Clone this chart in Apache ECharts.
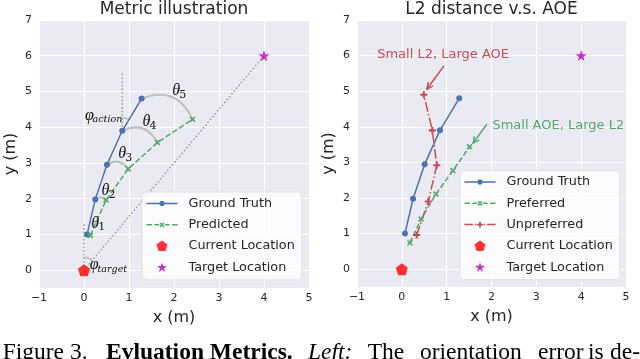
<!DOCTYPE html>
<html><head><meta charset="utf-8">
<script src="https://cdn.jsdelivr.net/npm/echarts@6/dist/echarts.min.js"></script>
<style>html,body{margin:0;padding:0;background:#fff}#c{width:640px;height:359px}</style>
</head><body><div id="c"></div>
<script>
// ---------- data ----------
const xRange = [-1, 5];
const yRange = [-0.5, 7];
const currentLocation = [0, 0];
const targetLocation = [4, 6];
const groundTruth = [[0.07, 1.0], [0.25, 1.98], [0.51, 2.95], [0.85, 3.9], [1.28, 4.8]];
const predicted = [[0.14, 0.97], [0.49, 1.96], [0.98, 2.83], [1.63, 3.57], [2.41, 4.22]];
const preferred = [[0.18, 0.74], [0.43, 1.41], [0.76, 2.11], [1.14, 2.77], [1.51, 3.44]];
const unpreferred = [[0.33, 0.96], [0.59, 1.9], [0.78, 2.92], [0.68, 3.9], [0.49, 4.9]];
// dotted vertical reference lines: [x, y, length]
const verticalRefs = [[0, 0, 1.35], [0.85, 3.9, 1.64]];
// angle annotations
const thetaSubs = ['1', '2', '3', '4', '5'];
const thetaLabelPos = [[0.16, 1.31], [0.39, 2.22], [0.76, 3.25], [1.30, 4.14], [1.96, 5.02]];
const phiSubs = ['action', 'target'];
const phiLabelPos = [[0.02, 4.32], [0.13, 0.14]];
// right-panel notes
const notes = ['Small L2, Large AOE', 'Small AOE, Large L2'];
const notePos = [[0.92, 6.02], [3.49, 4.04]];
const arrowFrom = [[0.94, 5.71], [1.90, 4.08]];
const arrowTo = [[0.56, 5.06], [1.59, 3.54]];

// ---------- styles ----------
const FONT = 'DejaVu Sans';
const TXT = '#262626';
const BLUE = '#4c72b0', GREEN = '#55a868', RED = '#c44e52';
function polyPts(pts, cx, cy, s) {
  return pts.map((p, k) => (k ? 'L' : 'M') + (cx + p[0] * s).toFixed(3) + ',' + (cy + p[1] * s).toFixed(3)).join(' ') + ' Z';
}
const pentPts = [0, 1, 2, 3, 4].map(k => [Math.cos(-Math.PI / 2 + k * 2 * Math.PI / 5), Math.sin(-Math.PI / 2 + k * 2 * Math.PI / 5)]);
const starPts = [0, 1, 2, 3, 4, 5, 6, 7, 8, 9].map(k => { const r = k % 2 ? 0.4 : 1, a = -Math.PI / 2 + k * Math.PI / 5; return [r * Math.cos(a), r * Math.sin(a)]; });
const xPts = [[-1, -0.6], [-0.6, -1], [0, -0.4], [0.6, -1], [1, -0.6], [0.4, 0], [1, 0.6], [0.6, 1], [0, 0.4], [-0.6, 1], [-1, 0.6], [-0.4, 0]];
const plusPts = [[-0.3, -1], [0.3, -1], [0.3, -0.3], [1, -0.3], [1, 0.3], [0.3, 0.3], [0.3, 1], [-0.3, 1], [-0.3, 0.3], [-1, 0.3], [-1, -0.3], [-0.3, -0.3]];
const circPts = Array.from({ length: 20 }, (_, k) => [Math.cos(k * Math.PI / 10), Math.sin(k * Math.PI / 10)]);
const PENT = 'path://' + polyPts(pentPts, 0, 0, 1);
const STAR = 'path://' + polyPts(starPts, 0, 0, 1);
const XMARK = 'path://' + polyPts(xPts, 0, 0, 1);
const PLUS = 'path://' + polyPts(plusPts, 0, 0, 1);

// legend icons drawn in a 31 x 14 box
const LW = 31, LH = 14;
const corners = 'M0,0 L0.01,0 L0,0.01 Z M31,14 L30.99,14 L31,13.99 Z ';
const seg = (a, b) => `M${a},6.25 L${b},6.25 L${b},7.75 L${a},7.75 Z `;
const ICON_GT = 'path://' + corners + seg(0, 13) + seg(18, 31) + polyPts(circPts, 15.5, 7, 2.7);
const ICON_DASH_X = 'path://' + corners + seg(0, 5.5) + seg(7.9, 12.6) + seg(18.4, 23.1) + seg(25.5, 31) + polyPts(xPts, 15.5, 7, 2.6);
const ICON_DASHDOT_P = 'path://' + corners + seg(0, 8.5) + seg(10.6, 12.1) + seg(18.9, 20.4) + seg(22.5, 31) + polyPts(plusPts, 15.5, 7, 2.9);
const ICON_PENT = 'path://' + corners + polyPts(pentPts, 15.5, 7.3, 5.8);
const ICON_STAR = 'path://' + corners + polyPts(starPts, 15.5, 7.3, 5.2);

const fmt = v => v < 0 ? '\u2212' + (-v) : String(v);

function xAxisCfg(i) {
  return {
    type: 'value', gridIndex: i, min: xRange[0], max: xRange[1], interval: 1,
    axisLine: { show: false }, axisTick: { show: false },
    splitLine: { lineStyle: { color: '#ffffff', width: 1 } },
    axisLabel: { color: TXT, fontFamily: FONT, fontSize: 11, margin: 5, formatter: fmt },
    name: 'x (m)', nameLocation: 'middle', nameGap: 22,
    nameTextStyle: { color: TXT, fontFamily: FONT, fontSize: 16 }
  };
}
function yAxisCfg(i) {
  return {
    type: 'value', gridIndex: i, min: yRange[0], max: yRange[1], splitNumber: 7,
    axisLine: { show: false }, axisTick: { show: false },
    splitLine: { lineStyle: { color: '#ffffff', width: 1 } },
    axisLabel: { color: TXT, fontFamily: FONT, fontSize: 11, margin: 7,
      formatter: v => Number.isInteger(v) ? fmt(v) : '' },
    name: 'y (m)', nameLocation: 'middle', nameGap: 20,
    nameTextStyle: { color: TXT, fontFamily: FONT, fontSize: 16 }
  };
}

function lineSeries(name, data, color, type, symbol, size, gi) {
  return {
    type: 'line', name, data, xAxisIndex: gi, yAxisIndex: gi,
    symbol, symbolSize: size, showSymbol: true,
    itemStyle: { color }, lineStyle: { color, width: 1.5, type },
    z: 5, animation: false, silent: true
  };
}
function pointSeries(name, pt, color, symbol, size, gi) {
  return {
    type: 'scatter', name, data: [pt], xAxisIndex: gi, yAxisIndex: gi,
    symbol, symbolSize: size, itemStyle: { color }, z: 6, animation: false, silent: true
  };
}

// dotted segments (target line + vertical references)
const segments = [[currentLocation[0], currentLocation[1], targetLocation[0], targetLocation[1]]]
  .concat(verticalRefs.map(r => [r[0], r[1], r[0], r[1] + r[2]]));

function segRender(params, api) {
  const a = api.coord([api.value(0), api.value(1)]);
  const b = api.coord([api.value(2), api.value(3)]);
  return { type: 'line', shape: { x1: a[0], y1: a[1], x2: b[0], y2: b[1] },
    style: { stroke: '#9a9a9a', lineWidth: 1.5, lineDash: [1.5, 2.2], fill: null } };
}
function arcRender(params, api) {
  const a = api.coord([api.value(0), api.value(1)]);
  const b = api.coord([api.value(2), api.value(3)]);
  const dx = b[0] - a[0], dy = b[1] - a[1], rad = 0.47;
  const cx = (a[0] + b[0]) / 2 + rad * dy, cy = (a[1] + b[1]) / 2 - rad * dx;
  return { type: 'bezierCurve', shape: { x1: a[0], y1: a[1], x2: b[0], y2: b[1], cpx1: cx, cpy1: cy },
    style: { stroke: '#bfbfbf', lineWidth: 2, fill: null } };
}
function angleRender(params, api) {
  const c = api.coord([api.value(0), api.value(1)]);
  const t = api.coord([api.value(2), api.value(3)]);
  const end = Math.atan2(t[1] - c[1], t[0] - c[0]);
  return { type: 'arc', shape: { cx: c[0], cy: c[1], r: 13, startAngle: -Math.PI / 2, endAngle: end, clockwise: true },
    style: { stroke: '#bfbfbf', lineWidth: 1.5, fill: null } };
}
function symLabelRender(sym, subs, italicSub, subSize, subDx) {
  return function (params, api) {
    const p = api.coord([api.value(0), api.value(1)]);
    return { type: 'group', children: [
      { type: 'text', x: p[0], y: p[1], style: { text: sym, fill: '#111', font: 'italic 16px "Liberation Serif"', align: 'left', verticalAlign: 'middle' } },
      { type: 'text', x: p[0] + subDx, y: p[1] + 4, style: { text: subs[params.dataIndex], fill: '#111',
        font: (italicSub ? 'italic ' : '') + subSize + 'px "DejaVu Serif"', align: 'left', verticalAlign: 'middle' } }
    ] };
  };
}
function arrowRender(params, api) {
  const a = api.coord([api.value(0), api.value(1)]);
  const b = api.coord([api.value(2), api.value(3)]);
  const ang = Math.atan2(b[1] - a[1], b[0] - a[0]);
  const L = 7, w = 0.45;
  const color = params.dataIndex === 0 ? RED : GREEN;
  const h1 = [b[0] - L * Math.cos(ang - w), b[1] - L * Math.sin(ang - w)];
  const h2 = [b[0] - L * Math.cos(ang + w), b[1] - L * Math.sin(ang + w)];
  return { type: 'group', children: [
    { type: 'line', shape: { x1: a[0], y1: a[1], x2: b[0], y2: b[1] }, style: { stroke: color, lineWidth: 1.5 } },
    { type: 'polyline', shape: { points: [h1, b, h2] }, style: { stroke: color, lineWidth: 1.5, fill: null } }
  ] };
}
function noteRender(params, api) {
  const p = api.coord([api.value(0), api.value(1)]);
  return { type: 'text', x: p[0], y: p[1], style: { text: notes[params.dataIndex],
    fill: params.dataIndex === 0 ? RED : GREEN, font: '13px "DejaVu Sans"', align: 'center', verticalAlign: 'middle' } };
}
function custom(name, data, render, gi, z) {
  const four = data[0].length > 2;
  return { type: 'custom', name, data, renderItem: render, xAxisIndex: gi, yAxisIndex: gi,
    encode: four ? { x: [0, 2], y: [1, 3] } : { x: 0, y: 1 },
    z, silent: true, animation: false };
}

const thetaArcs = groundTruth.map((g, i) => [g[0], g[1], predicted[i][0], predicted[i][1]]);
const phiArcs = [[groundTruth[3][0], groundTruth[3][1], groundTruth[4][0], groundTruth[4][1]],
                 [currentLocation[0], currentLocation[1], targetLocation[0], targetLocation[1]]];
const arrows = arrowFrom.map((f, i) => [f[0], f[1], arrowTo[i][0], arrowTo[i][1]]);

const iconFor = {
  'Ground Truth': ICON_GT, 'Predicted': ICON_DASH_X, 'Preferred': ICON_DASH_X,
  'Unpreferred': ICON_DASHDOT_P, 'Current Location': ICON_PENT, 'Target Location': ICON_STAR
};
function legendCfg(left, top, names) {
  return {
    orient: 'vertical', left, top, data: names.map(n => ({ name: n, icon: iconFor[n] })),
    itemWidth: LW, itemHeight: LH, itemGap: 7.3,
    itemStyle: { borderWidth: 0 },
    padding: [4.5, 7, 5.5, 4.5],
    backgroundColor: 'rgba(255,255,255,0.8)', borderColor: '#dcdcdc', borderWidth: 0.8, borderRadius: 4,
    textStyle: { color: TXT, fontFamily: FONT, fontSize: 12.8, lineHeight: 14, padding: [0, 0, 0, 6] },
    selectedMode: false
  };
}

const chart = echarts.init(document.getElementById('c'), null, { renderer: 'canvas' });
chart.setOption({
  animation: false,
  backgroundColor: '#ffffff',
  grid: [
    { left: 39, top: 20, width: 270, height: 268, show: true, backgroundColor: '#eaeaf2', borderWidth: 0 },
    { left: 357, top: 20, width: 269, height: 267, show: true, backgroundColor: '#eaeaf2', borderWidth: 0 }
  ],
  xAxis: [xAxisCfg(0), xAxisCfg(1)],
  yAxis: [yAxisCfg(0), yAxisCfg(1)],
  legend: [
    legendCfg(142, 192, ['Ground Truth', 'Predicted', 'Current Location', 'Target Location']),
    legendCfg(460, 170.5, ['Ground Truth', 'Preferred', 'Unpreferred', 'Current Location', 'Target Location'])
  ],
  series: [
    custom('segments', segments, segRender, 0, 1),
    custom('thetaArcs', thetaArcs, arcRender, 0, 2),
    custom('phiArcs', phiArcs, angleRender, 0, 2),
    lineSeries('Ground Truth', groundTruth, BLUE, 'solid', 'circle', 6, 0),
    lineSeries('Predicted', predicted, GREEN, [5.5, 2.4], XMARK, 6, 0),
    pointSeries('Current Location', currentLocation, '#ff0000', PENT, 12, 0),
    pointSeries('Target Location', targetLocation, '#bf00bf', STAR, 11, 0),
    custom('thetaLabels', thetaLabelPos, symLabelRender('θ', thetaSubs, false, 11, 7), 0, 7),
    custom('phiLabels', phiLabelPos, symLabelRender('φ', phiSubs, true, 9.5, 7.7), 0, 7),

    lineSeries('Ground Truth', groundTruth, BLUE, 'solid', 'circle', 6, 1),
    lineSeries('Preferred', preferred, GREEN, [5.5, 2.4], XMARK, 6, 1),
    lineSeries('Unpreferred', unpreferred, RED, [9.6, 2.4, 1.5, 2.4], PLUS, 7, 1),
    pointSeries('Current Location', currentLocation, '#ff0000', PENT, 12, 1),
    pointSeries('Target Location', targetLocation, '#bf00bf', STAR, 11, 1),
    custom('arrows', arrows, arrowRender, 1, 7),
    custom('notes', notePos, noteRender, 1, 7)
  ],
  graphic: [
    { type: 'text', x: 174, y: 9.5, style: { text: 'Metric illustration', font: '17px "DejaVu Sans"', fill: TXT, align: 'center', verticalAlign: 'middle' } },
    { type: 'text', x: 491.5, y: 9.5, style: { text: 'L2 distance v.s. AOE', font: '17px "DejaVu Sans"', fill: TXT, align: 'center', verticalAlign: 'middle' } },
    { type: 'text', x: 2.7, y: 352.5, style: { text: 'Figure 3.', font: '23.5px "Liberation Serif"', fill: '#000', verticalAlign: 'middle' } },
    { type: 'text', x: 106, y: 352.5, style: { text: 'Evluation Metrics.', font: 'bold 23.5px "Liberation Serif"', fill: '#000', verticalAlign: 'middle' } },
    { type: 'text', x: 308, y: 352.5, style: { text: 'Left:', font: 'italic 23.5px "Liberation Serif"', fill: '#000', verticalAlign: 'middle' } },
    { type: 'text', x: 367.7, y: 352.5, style: { text: 'The', font: '23.5px "Liberation Serif"', fill: '#000', verticalAlign: 'middle' } },
    { type: 'text', x: 420, y: 352.5, style: { text: 'orientation', font: '23.5px "Liberation Serif"', fill: '#000', verticalAlign: 'middle' } },
    { type: 'text', x: 538, y: 352.5, style: { text: 'error', font: '23.5px "Liberation Serif"', fill: '#000', verticalAlign: 'middle' } },
    { type: 'text', x: 588, y: 352.5, style: { text: 'is', font: '23.5px "Liberation Serif"', fill: '#000', verticalAlign: 'middle' } },
    { type: 'text', x: 610, y: 352.5, style: { text: 'de-', font: '23.5px "Liberation Serif"', fill: '#000', verticalAlign: 'middle' } }
  ]
});
</script>
</body></html>
